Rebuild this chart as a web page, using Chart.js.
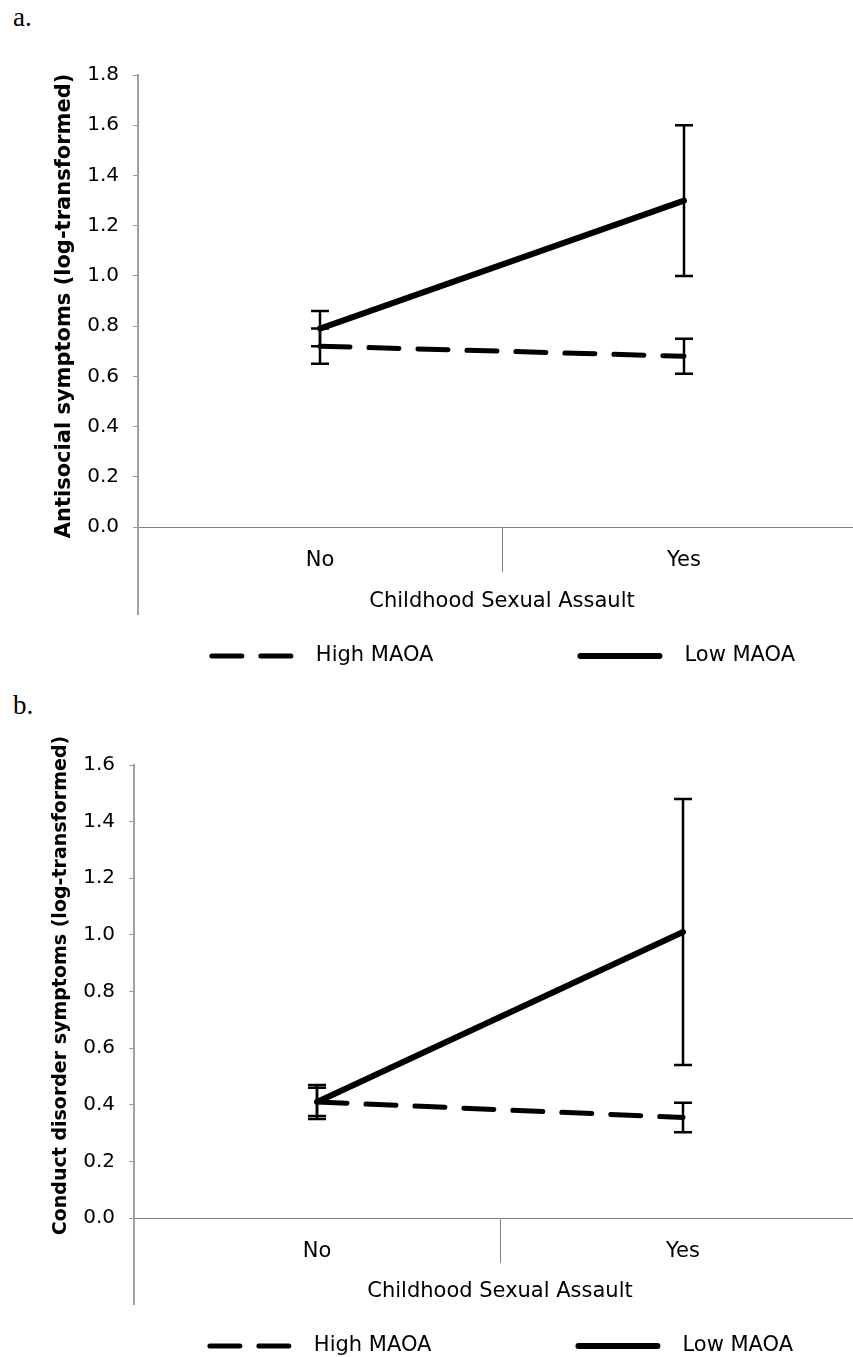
<!DOCTYPE html>
<html>
<head>
<meta charset="utf-8">
<script src="https://cdn.jsdelivr.net/npm/chart.js@4"></script>
<style>
body { margin: 0; width: 853px; height: 1357px; overflow: hidden; background: #fff; position: relative; }
.panel { position: absolute; left: 0; width: 870px; }
.tag { position: absolute; left: 13px; font: 27px "Liberation Serif", "Times New Roman", serif; line-height: 27px; }
</style>
</head>
<body>
<div class="tag" style="top:4px">a.</div>
<div class="panel" style="top:40px;height:650px"><canvas id="chartA"></canvas></div>
<div class="tag" style="top:692px">b.</div>
<div class="panel" style="top:690px;height:667px"><canvas id="chartB"></canvas></div>
<script>
const categories = ['No', 'Yes'];

// a. antisocial symptoms
const highMaoaA = [0.72, 0.68];
const highMaoaAErr = [0.07, 0.07];
const lowMaoaA = [0.79, 1.30];
const lowMaoaAErr = [0.07, 0.30];
const yTicksA = [0.0, 0.2, 0.4, 0.6, 0.8, 1.0, 1.2, 1.4, 1.6, 1.8];

// b. conduct disorder symptoms
const highMaoaB = [0.41, 0.355];
const highMaoaBErr = [0.05, 0.052];
const lowMaoaB = [0.41, 1.01];
const lowMaoaBErr = [0.06, 0.47];
const yTicksB = [0.0, 0.2, 0.4, 0.6, 0.8, 1.0, 1.2, 1.4, 1.6];

const FONT = 'DejaVu Sans';

// error bars from the "errors" array on each dataset
const errorBars = {
    id: 'errorBars',
    afterDatasetsDraw(chart) {
        const ctx = chart.ctx, x = chart.scales.x, y = chart.scales.y;
        ctx.save();
        ctx.strokeStyle = '#000';
        ctx.lineWidth = 2.5;
        chart.data.datasets.forEach(ds => {
            ds.data.forEach((v, i) => {
                const px = x.getPixelForValue(i);
                const top = y.getPixelForValue(v + ds.errors[i]);
                const bot = y.getPixelForValue(v - ds.errors[i]);
                ctx.beginPath();
                ctx.moveTo(px, top); ctx.lineTo(px, bot);
                ctx.moveTo(px - 9, top); ctx.lineTo(px + 9, top);
                ctx.moveTo(px - 9, bot); ctx.lineTo(px + 9, bot);
                ctx.stroke();
            });
        });
        ctx.restore();
    }
};

// excel style bits: y axis running down past the labels, rotated title, legend
const axisExtras = {
    id: 'axisExtras',
    afterDraw(chart) {
        const {ctx, chartArea, scales: {x, y}} = chart;
        const t = y.options.title;
        ctx.save();
        ctx.strokeStyle = y.options.border.color;
        ctx.lineWidth = y.options.border.width;
        ctx.beginPath();
        ctx.moveTo(chartArea.left, chartArea.bottom);
        ctx.lineTo(chartArea.left, x.bottom);
        ctx.stroke();

        // y title
        ctx.save();
        ctx.translate(chartArea.left - 73, (chartArea.top + chartArea.bottom) / 2 + t.shift);
        ctx.rotate(-Math.PI / 2);
        ctx.font = 'bold ' + t.font.size + 'px ' + FONT;
        ctx.fillStyle = '#000';
        ctx.textAlign = 'center';
        ctx.textBaseline = 'middle';
        ctx.fillText(t.text, 0, 0);
        ctx.restore();

        // legend
        ctx.font = '21px ' + FONT;
        ctx.textBaseline = 'middle';
        ctx.textAlign = 'left';
        ctx.fillStyle = '#000';
        ctx.strokeStyle = '#000';
        const lineLen = 85, gapText = 22, gapItem = 144;
        const items = chart.data.datasets;
        let total = 0;
        items.forEach((ds, i) => {
            total += lineLen + gapText + ctx.measureText(ds.label).width;
            if (i > 0) total += gapItem;
        });
        let cx = (chartArea.left + chartArea.right) / 2 - total / 2;
        const ly = x.bottom + 41;
        items.forEach(ds => {
            ctx.beginPath();
            ctx.lineWidth = ds.borderWidth;
            ctx.lineCap = 'round';
            ctx.setLineDash(ds.borderDash || []);
            ctx.moveTo(cx + 3, ly);
            ctx.lineTo(cx + lineLen - 3, ly);
            ctx.stroke();
            ctx.setLineDash([]);
            cx += lineLen + gapText;
            ctx.fillText(ds.label, cx, ly);
            cx += ctx.measureText(ds.label).width + gapItem;
        });
        ctx.restore();
    }
};

function makeChart(id, high, highErr, low, lowErr, ticks, title, titleSize, titleShift, pad, yWidth, xHeight) {
    return new Chart(document.getElementById(id), {
        type: 'line',
        data: {
            labels: categories,
            datasets: [
                { label: 'High MAOA', data: high, errors: highErr, borderColor: '#000', borderWidth: 5,
                  borderDash: [30, 19], borderCapStyle: 'round', pointRadius: 0, tension: 0 },
                { label: 'Low MAOA', data: low, errors: lowErr, borderColor: '#000', borderWidth: 6,
                  borderCapStyle: 'round', pointRadius: 0, tension: 0 }
            ]
        },
        options: {
            responsive: true,
            maintainAspectRatio: false,
            animation: false,
            layout: { padding: { top: pad[0], right: 4, bottom: pad[1], left: 0 } },
            plugins: { legend: { display: false }, tooltip: { enabled: false } },
            scales: {
                x: {
                    offset: true,
                    grid: { offset: true, drawOnChartArea: false, tickLength: 45, color: '#808080', lineWidth: 1 },
                    border: { color: '#7f7f7f', width: 1 },
                    ticks: { font: { family: FONT, size: 21 }, color: '#000', padding: -24 },
                    title: { display: true, text: 'Childhood Sexual Assault', color: '#000',
                             font: { family: FONT, size: 21 }, padding: { top: 0, bottom: 1 } },
                    afterFit: s => { s.height = xHeight; }
                },
                y: {
                    min: 0,
                    max: ticks[ticks.length - 1],
                    afterBuildTicks: s => { s.ticks = ticks.map(v => ({ value: v })); },
                    ticks: { callback: v => v.toFixed(1), font: { family: FONT, size: 20 }, color: '#000', padding: 14 },
                    grid: { drawOnChartArea: false, tickLength: 5, color: '#999', lineWidth: 1 },
                    border: { color: '#a0a0a0', width: 2 },
                    title: { display: false, text: title, font: { size: titleSize }, shift: titleShift },
                    afterFit: s => { s.width = yWidth; }
                }
            }
        },
        plugins: [errorBars, axisExtras]
    });
}

makeChart('chartA', highMaoaA, highMaoaAErr, lowMaoaA, lowMaoaAErr, yTicksA,
    'Antisocial symptoms (log-transformed)', 21, 5, [35, 75], 138, 88);
makeChart('chartB', highMaoaB, highMaoaBErr, lowMaoaB, lowMaoaBErr, yTicksB,
    'Conduct disorder symptoms (log-transformed)', 19, -6, [75, 52], 134, 87);
</script>
</body>
</html>
